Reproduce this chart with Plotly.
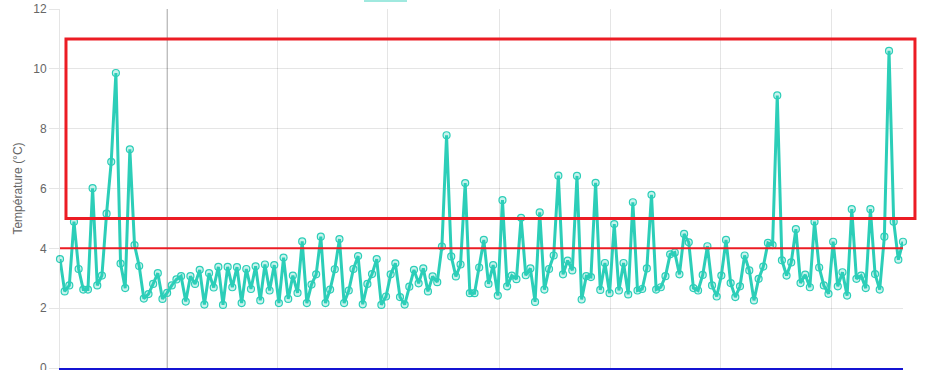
import plotly.graph_objects as go

temperature = [
    3.64, 2.56, 2.76, 4.89, 3.31, 2.62, 2.62, 6.01, 2.76, 3.09,
    5.16, 6.89, 9.86, 3.49, 2.67, 7.31, 4.11, 3.41, 2.32, 2.47,
    2.81, 3.17, 2.31, 2.51, 2.76, 2.96, 3.07, 2.22, 3.07, 2.81,
    3.28, 2.12, 3.17, 2.69, 3.38, 2.11, 3.38, 2.70, 3.37, 2.17,
    3.31, 2.64, 3.40, 2.26, 3.46, 2.59, 3.44, 2.17, 3.69, 2.31,
    3.09, 2.51, 4.23, 2.17, 2.79, 3.13, 4.39, 2.17, 2.62, 3.30,
    4.31, 2.17, 2.59, 3.31, 3.74, 2.13, 2.81, 3.14, 3.64, 2.11,
    2.39, 3.13, 3.50, 2.37, 2.12, 2.72, 3.28, 2.83, 3.33, 2.56,
    3.06, 2.87, 4.06, 7.78, 3.73, 3.06, 3.46, 6.18, 2.50, 2.50,
    3.36, 4.28, 2.81, 3.44, 2.42, 5.61, 2.73, 3.09, 2.97, 5.02,
    3.10, 3.33, 2.21, 5.20, 2.62, 3.31, 3.76, 6.43, 3.13, 3.59,
    3.26, 6.42, 2.29, 3.07, 3.04, 6.19, 2.61, 3.51, 2.50, 4.81,
    2.59, 3.51, 2.46, 5.54, 2.59, 2.64, 3.33, 5.79, 2.62, 2.70,
    3.07, 3.80, 3.86, 3.13, 4.48, 4.20, 2.67, 2.59, 3.11, 4.07,
    2.76, 2.39, 3.09, 4.28, 2.84, 2.37, 2.73, 3.76, 3.26, 2.26,
    2.98, 3.39, 4.18, 4.11, 9.11, 3.60, 3.09, 3.53, 4.64, 2.84,
    3.12, 2.70, 4.89, 3.36, 2.76, 2.48, 4.22, 2.73, 3.20, 2.42,
    5.31, 2.98, 3.09, 2.67, 5.31, 3.14, 2.62, 4.39, 10.60, 4.89,
    3.62, 4.22,
]
sample_index = list(range(len(temperature)))

x_grid_ticks = [23.0, 46.6, 70.4, 94.3, 118.1, 141.9, 165.6]
y_ticks = [0, 2, 4, 6, 8, 10, 12]
y_tick_labels = ["0", "2", "4", "6", "8", "10", "12"]

threshold = 4
alert_zone = (5, 11)
y_title = "Température (°C)"

TEAL = "rgb(44,206,184)"
RED = "rgb(236,28,36)"

fig = go.Figure()
fig.add_trace(go.Scatter(
    x=sample_index, y=temperature, mode="lines+markers",
    line=dict(color=TEAL, width=3),
    marker=dict(size=7, color="rgba(44,206,184,0.25)",
                line=dict(color=TEAL, width=1.2)),
    cliponaxis=False, showlegend=False, name="Température",
))

# threshold line
fig.add_shape(type="line", xref="x", yref="y",
              x0=sample_index[0], x1=sample_index[-1], y0=threshold, y1=threshold,
              line=dict(color=RED, width=2), layer="above")
# alert rectangle (extends beyond plot on the right)
fig.add_shape(type="rect", xref="paper", yref="y",
              x0=0.0071, x1=1.0142, y0=alert_zone[0], y1=alert_zone[1],
              line=dict(color=RED, width=3), fillcolor="rgba(0,0,0,0)", layer="above")
# darker first vertical grid line
fig.add_shape(type="line", xref="x", yref="paper",
              x0=x_grid_ticks[0], x1=x_grid_ticks[0], y0=0, y1=1,
              line=dict(color="rgba(0,0,0,0.28)", width=1), layer="below")
# legend swatch (clipped at the top)
fig.add_shape(type="rect", xref="paper", yref="paper",
              x0=(364 - 60) / 843, x1=(407 - 60) / 843, y0=1.0195, y1=1.03,
              line=dict(width=0), fillcolor="rgba(44,206,184,0.45)")

fig.update_layout(
    width=943, height=370,
    margin=dict(l=60, r=40, t=9, b=2),
    paper_bgcolor="white", plot_bgcolor="white",
    font=dict(family="Liberation Sans, Arial, sans-serif", color="#666666", size=12),
    xaxis=dict(range=[0, len(temperature) - 1], tickvals=x_grid_ticks,
               showticklabels=False, showgrid=True, gridcolor="rgba(0,0,0,0.1)",
               zeroline=False, showline=True, linecolor="rgb(20,20,210)", linewidth=2,
               ticks="", automargin=False),
    yaxis=dict(range=[0, 12], tickvals=y_ticks, ticktext=y_tick_labels,
               showgrid=True, gridcolor="rgba(0,0,0,0.1)", zeroline=False,
               showline=True, linecolor="rgba(0,0,0,0.1)", linewidth=1,
               ticks="outside", ticklen=10, tickcolor="rgba(0,0,0,0.1)",
               ticklabeloverflow="allow", automargin=False,
               tickfont=dict(size=12, color="#666666"),
               title=dict(text=y_title, font=dict(size=12, color="#666666"), standoff=8)),
)

fig.write_html("out.html")
